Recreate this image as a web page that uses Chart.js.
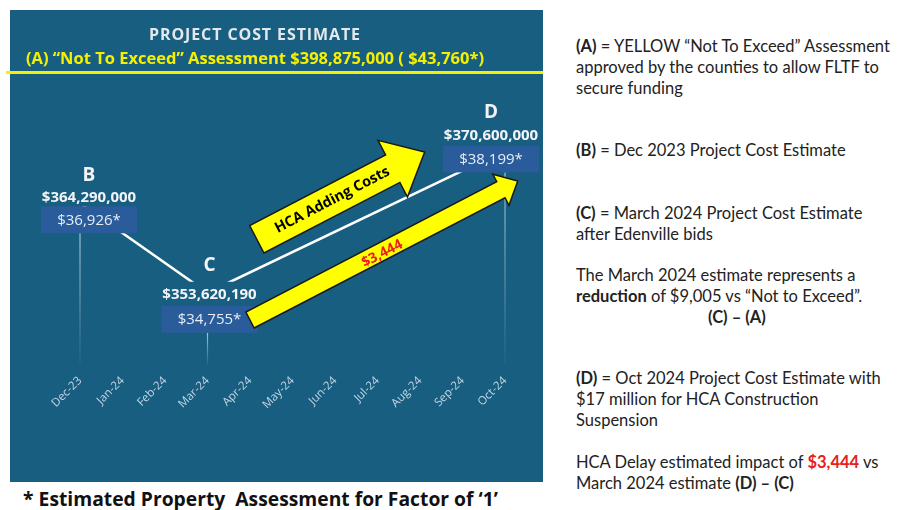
<!DOCTYPE html>
<html>
<head>
<meta charset="utf-8">
<script src="https://cdn.jsdelivr.net/npm/chart.js@4.4.1/dist/chart.umd.min.js"></script>
<style>
  body { margin: 0; background: #fff; width: 898px; height: 510px; position: relative; overflow: hidden; font-family: "Open Sans", sans-serif; }
  #panel { position: absolute; left: 10px; top: 10px; width: 533px; height: 472px; background: #175e80; }
  #panel canvas { position: absolute; left: 0; top: 0; }
  .hdr { position: absolute; left: 0; width: 490px; text-align: center; font-weight: 700; white-space: nowrap; }
  #rule { position: absolute; left: 6px; top: 71px; width: 537px; height: 3px; background: #f5f000; }
  #caption { position: absolute; left: 0; width: 521px; top: 485px; text-align: center; font-weight: 700; font-size: 19.3px; color: #111; white-space: nowrap; }
  .note { position: absolute; left: 576px; font-family: Lato, sans-serif; font-size: 16.5px; line-height: 21px; color: #222; white-space: nowrap; }
  .note b { font-weight: 700; }
</style>
</head>
<body>
<div id="panel">
  <canvas id="costChart" width="533" height="472"></canvas>
  <div class="hdr" style="top:13px; font-size:16px; letter-spacing:0.9px; color:#e4e8ec;">PROJECT COST ESTIMATE</div>
  <div class="hdr" style="top:36px; font-size:16.5px; color:#f5f000;">(A) “Not To Exceed” Assessment $398,875,000 ( $43,760*)</div>
</div>
<div id="rule"></div>
<div id="caption">* Estimated Property&nbsp; Assessment for Factor of ‘1’</div>

<div class="note" style="top:36px;"><b>(A)</b> = YELLOW “Not To Exceed” Assessment<br>approved by the counties to allow FLTF to<br>secure funding</div>
<div class="note" style="top:140px;"><b>(B)</b> = Dec 2023 Project Cost Estimate</div>
<div class="note" style="top:203px;"><b>(C)</b> = March 2024 Project Cost Estimate<br>after Edenville bids</div>
<div class="note" style="top:265px;">The March 2024 estimate represents a<br><b>reduction</b> of $9,005 vs “Not to Exceed”.</div>
<div class="note" style="top:307px; left:708px;"><b>(C) – (A)</b></div>
<div class="note" style="top:368px;"><b>(D)</b> = Oct 2024 Project Cost Estimate with<br>$17 million for HCA Construction<br>Suspension</div>
<div class="note" style="top:452px;">HCA Delay estimated impact of <b style="color:#e8201a;">$3,444</b> vs<br>March 2024 estimate <b>(D) – (C)</b></div>

<script>
// data
const months = ['Dec-23', 'Jan-24', 'Feb-24', 'Mar-24', 'Apr-24', 'May-24', 'Jun-24', 'Jul-24', 'Aug-24', 'Sep-24', 'Oct-24'];
const projectCost = [364290000, null, null, 353620190, null, null, null, null, null, null, 370600000];
const pointLetters = ['B', null, null, 'C', null, null, null, null, null, null, 'D'];
const perPropertyAssessment = [36926, null, null, 34755, null, null, null, null, null, null, 38199];

// arrows (x = month index, y = dollars)
const arrowLabels = ['HCA Adding Costs', '$3,444'];
const arrowTailX = [4.16, 4.0];
const arrowTailY = [360000000, 350370000];
const arrowTipX = [8.11, 10.3];
const arrowTipY = [370400000, 366950000];

// label placement around each point (pixels)
const labelPlace = {
    0: { dx: 9, top: 3, letter: -31, amount: -9 },
    3: { dx: 2, top: 13, letter: -40, amount: -11 },
    10: { dx: -14, top: -5, letter: -33, amount: -10 }
};
const arrowStyle = [
    { body: 31, head: 64, headLen: 36, font: 'bold 14.5px "Open Sans"', color: '#000', at: 0.45, off: 0 },
    { body: 18, head: 35, headLen: 19, font: 'bold 14px "Open Sans"', color: '#e8201a', at: 0.49, off: 2 }
];
const PANEL = '#175e80';
const BOX = '#2a5c9b';

function arrowShape(ctx, x0, y0, x1, y1, bw, hw, hl) {
    const len = Math.hypot(x1 - x0, y1 - y0);
    const ux = (x1 - x0) / len, uy = (y1 - y0) / len;
    const nx = -uy, ny = ux;
    const bx = x1 - ux * hl, by = y1 - uy * hl;
    ctx.beginPath();
    ctx.moveTo(x0 + nx * bw / 2, y0 + ny * bw / 2);
    ctx.lineTo(bx + nx * bw / 2, by + ny * bw / 2);
    ctx.lineTo(bx + nx * hw / 2, by + ny * hw / 2);
    ctx.lineTo(x1, y1);
    ctx.lineTo(bx - nx * hw / 2, by - ny * hw / 2);
    ctx.lineTo(bx - nx * bw / 2, by - ny * bw / 2);
    ctx.lineTo(x0 - nx * bw / 2, y0 - ny * bw / 2);
    ctx.closePath();
}

const overlay = {
    id: 'overlay',
    afterDatasetsDraw(chart) {
        const ctx = chart.ctx;
        const xs = chart.scales.x, ys = chart.scales.y, area = chart.chartArea;
        ctx.save();
        projectCost.forEach((v, i) => {
            if (v == null) return;
            const p = labelPlace[i];
            const px = xs.getPixelForValue(i), py = ys.getPixelForValue(v);
            const cx = px + p.dx, top = py + p.top;
            // clear the line behind the labels
            ctx.fillStyle = PANEL;
            ctx.fillRect(cx - 55, top + p.amount - 13, 110, 13 - p.amount);
            // drop line
            const g = ctx.createLinearGradient(0, top + 27, 0, area.bottom);
            g.addColorStop(0, 'rgba(215,228,240,0.75)');
            g.addColorStop(1, 'rgba(215,228,240,0.05)');
            ctx.strokeStyle = g;
            ctx.lineWidth = 1.2;
            ctx.beginPath();
            ctx.moveTo(px, top + 27);
            ctx.lineTo(px, area.bottom);
            ctx.stroke();
            // box
            ctx.fillStyle = BOX;
            ctx.fillRect(cx - 48, top, 96, 27);
            ctx.textAlign = 'center';
            ctx.textBaseline = 'middle';
            ctx.fillStyle = '#e6edf4';
            ctx.font = '15px "Open Sans"';
            ctx.fillText('$' + perPropertyAssessment[i].toLocaleString('en-US') + '*', cx, top + 14);
            ctx.fillStyle = '#f2f4f6';
            ctx.font = 'bold 15px "Open Sans"';
            ctx.fillText('$' + v.toLocaleString('en-US'), cx, top + p.amount);
            ctx.font = 'bold 19px "Open Sans"';
            ctx.fillText(pointLetters[i], cx, top + p.letter);
        });
        // arrows
        arrowLabels.forEach((txt, k) => {
            const s = arrowStyle[k];
            const x0 = xs.getPixelForValue(arrowTailX[k]), y0 = ys.getPixelForValue(arrowTailY[k]);
            const x1 = xs.getPixelForValue(arrowTipX[k]), y1 = ys.getPixelForValue(arrowTipY[k]);
            arrowShape(ctx, x0, y0, x1, y1, s.body, s.head, s.headLen);
            ctx.fillStyle = '#ffff00';
            ctx.fill();
            ctx.strokeStyle = '#1a1a1a';
            ctx.lineWidth = 1.5;
            ctx.stroke();
            const ang = Math.atan2(y1 - y0, x1 - x0);
            ctx.save();
            ctx.translate(x0 + (x1 - x0) * s.at, y0 + (y1 - y0) * s.at);
            ctx.rotate(ang);
            ctx.font = s.font;
            ctx.fillStyle = s.color;
            ctx.textAlign = 'center';
            ctx.textBaseline = 'middle';
            ctx.fillText(txt, 0, s.off);
            ctx.restore();
        });
        ctx.restore();
    }
};

new Chart(document.getElementById('costChart'), {
    type: 'line',
    data: {
        labels: months,
        datasets: [{
            data: projectCost,
            borderColor: '#ffffff',
            borderWidth: 2.5,
            pointRadius: 0,
            spanGaps: true,
            tension: 0
        }]
    },
    options: {
        responsive: false,
        animation: false,
        layout: { padding: { left: 70, right: 38, top: 70, bottom: 0 } },
        plugins: { legend: { display: false }, tooltip: { enabled: false } },
        scales: {
            x: {
                offset: false,
                grid: { display: false, drawTicks: false },
                border: { display: false },
                ticks: {
                    color: '#c3d6e4',
                    font: { family: 'Open Sans', size: 11.5 },
                    minRotation: 45,
                    maxRotation: 45,
                    padding: 9,
                    autoSkip: false
                },
                afterFit(scale) { scale.height = 117; }
            },
            y: {
                display: false,
                min: 345000000,
                max: 379000000
            }
        }
    },
    plugins: [overlay]
});
</script>
</body>
</html>
